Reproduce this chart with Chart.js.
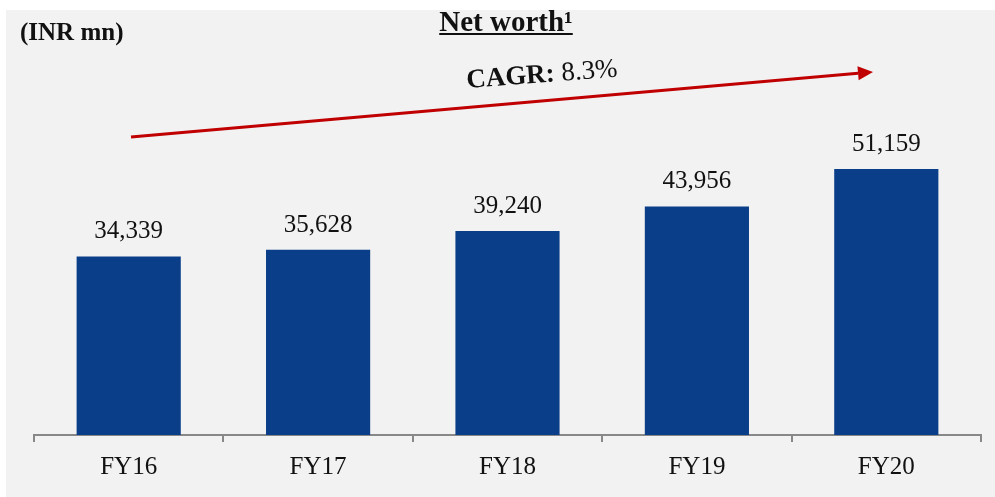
<!DOCTYPE html>
<html>
<head>
<meta charset="utf-8">
<script src="https://cdn.jsdelivr.net/npm/chart.js@4.4.1/dist/chart.umd.min.js"></script>
<style>
  html, body { margin: 0; padding: 0; background: #fff; }
  #wrap { width: 995px; height: 497px; position: relative; }
</style>
</head>
<body>
<div id="wrap"><canvas id="netWorth"></canvas></div>
<script>
// Net worth, INR mn
let years = ['FY16', 'FY17', 'FY18', 'FY19', 'FY20'];
let netWorth = [34339, 35628, 39240, 43956, 51159];
let cagrText = '8.3%';

const serif = "'Liberation Serif', 'Times New Roman', serif";
const barBlue = '#0B3E88';
const arrowRed = '#C00000';

// grey panel behind the chart
const panelBg = {
  id: 'panelBg',
  beforeDraw(chart) {
    const c = chart.ctx;
    c.save();
    c.fillStyle = '#fff';
    c.fillRect(0, 0, chart.width, chart.height);
    c.fillStyle = '#F2F2F2';
    c.fillRect(6, 10, chart.width - 6, chart.height - 10);
    c.restore();
  }
};

// value labels above bars + title, unit and CAGR arrow
const extras = {
  id: 'extras',
  afterDatasetsDraw(chart) {
    const c = chart.ctx;
    const meta = chart.getDatasetMeta(0);
    c.save();
    c.fillStyle = '#111';
    c.font = '25px ' + serif;
    c.textAlign = 'center';
    c.textBaseline = 'alphabetic';
    meta.data.forEach((bar, i) => {
      c.fillText(netWorth[i].toLocaleString('en-US'), bar.x, bar.y - 18);
    });

    // unit
    c.textAlign = 'left';
    c.font = 'bold 25px ' + serif;
    c.fillText('(INR mn)', 20, 40);

    // title, underlined
    c.textAlign = 'center';
    c.font = 'bold 29px ' + serif;
    const title = 'Net worth\u00B9';
    c.fillText(title, 506, 31);
    const w = c.measureText(title).width;
    c.fillRect(506 - w / 2, 33, w, 2);

    // arrow
    c.strokeStyle = arrowRed;
    c.fillStyle = arrowRed;
    c.lineWidth = 3;
    const x0 = 131, y0 = 137, x1 = 873, y1 = 72;
    const ang = Math.atan2(y1 - y0, x1 - x0);
    const hl = 15;
    c.beginPath();
    c.moveTo(x0, y0);
    c.lineTo(x1 - hl * Math.cos(ang), y1 - hl * Math.sin(ang));
    c.stroke();
    c.beginPath();
    c.moveTo(x1, y1);
    c.lineTo(x1 - hl * Math.cos(ang) + 7 * Math.sin(ang), y1 - hl * Math.sin(ang) - 7 * Math.cos(ang));
    c.lineTo(x1 - hl * Math.cos(ang) - 7 * Math.sin(ang), y1 - hl * Math.sin(ang) + 7 * Math.cos(ang));
    c.closePath();
    c.fill();

    // CAGR text, tilted
    c.translate(467, 88);
    c.rotate(-0.076);
    c.fillStyle = '#111';
    c.textAlign = 'left';
    c.font = 'bold 27px ' + serif;
    const lead = 'CAGR: ';
    c.fillText(lead, 0, 0);
    const lw = c.measureText(lead).width;
    c.font = '27px ' + serif;
    c.fillText(cagrText, lw, 0);
    c.restore();
  }
};

let ctx = document.getElementById('netWorth').getContext('2d');
let chart = new Chart(ctx, {
  type: 'bar',
  data: {
    labels: years,
    datasets: [{
      data: netWorth,
      backgroundColor: barBlue,
      categoryPercentage: 1,
      barPercentage: 0.55
    }]
  },
  options: {
    responsive: true,
    maintainAspectRatio: false,
    animation: false,
    layout: { padding: { left: 34, right: 14, top: 123, bottom: 5 } },
    plugins: {
      legend: { display: false },
      tooltip: { enabled: false }
    },
    scales: {
      x: {
        grid: {
          drawOnChartArea: false,
          drawTicks: true,
          tickLength: 7,
          color: '#888',
          lineWidth: 2
        },
        border: { display: true, color: '#888', width: 2 },
        ticks: {
          color: '#111',
          padding: 10,
          font: { family: serif, size: 25 }
        }
      },
      y: {
        display: false,
        min: 0,
        max: 60000
      }
    }
  },
  plugins: [panelBg, extras]
});
</script>
</body>
</html>
